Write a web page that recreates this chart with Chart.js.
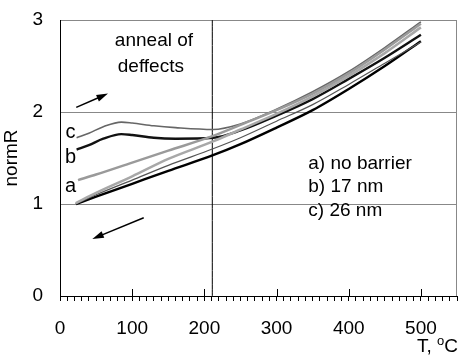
<!DOCTYPE html>
<html lang="en">
<head>
<meta charset="UTF-8" />
<title>normR vs T</title>
<script src="https://cdn.jsdelivr.net/npm/chart.js"></script>
<style>
  html, body { margin: 0; padding: 0; background: #fff; }
  #wrap { width: 459px; height: 357px; }
</style>
</head>
<body>
<div id="wrap"><canvas id="grafico"></canvas></div>
<script>
  // values: T in °C, normalized resistance
  const tHeatA = [25, 50, 100, 150, 212, 250, 300, 350, 400, 450, 500];
  const rHeatA = [1.26, 1.32, 1.45, 1.58, 1.74, 1.86, 2.02, 2.2, 2.42, 2.68, 2.96];

  const tCoolA = [22, 50, 100, 150, 212, 250, 300, 350, 400, 450, 500];
  const rCoolA = [1.01, 1.12, 1.3, 1.49, 1.68, 1.81, 1.98, 2.17, 2.39, 2.64, 2.92];

  const tHeatC = [23, 40, 60, 85, 100, 130, 160, 212, 250, 300, 350, 400, 450, 500];
  const rHeatC = [1.72, 1.77, 1.84, 1.89, 1.88, 1.85, 1.83, 1.81, 1.87, 2.03, 2.22, 2.44, 2.7, 2.98];

  const tHeatB = [23, 40, 60, 85, 100, 130, 160, 212, 250, 300, 350, 400, 450, 500];
  const rHeatB = [1.59, 1.64, 1.71, 1.76, 1.75, 1.72, 1.71, 1.72, 1.8, 1.96, 2.14, 2.36, 2.59, 2.84];

  const tCoolC = [22, 50, 100, 150, 212, 250, 300, 350, 400, 450, 500];
  const rCoolC = [1.0, 1.1, 1.26, 1.42, 1.6, 1.72, 1.9, 2.08, 2.3, 2.53, 2.76];

  const tCoolB = [22, 50, 100, 150, 212, 250, 300, 350, 400, 450, 500];
  const rCoolB = [1.0, 1.08, 1.22, 1.36, 1.53, 1.65, 1.83, 2.02, 2.25, 2.5, 2.77];

  const annealT = 211;
  const xMajor = [100, 200, 300, 400, 500];
  const legendLines = ['a) no barrier', 'b) 17 nm', 'c) 26 nm'];

  const FONT = '"Liberation Sans", Arial, sans-serif';

  function pts(xs, ys) { return xs.map((x, i) => ({ x: x, y: ys[i] })); }

  function serie(xs, ys, color, width) {
    return {
      data: pts(xs, ys), showLine: true, borderColor: color, borderWidth: width,
      pointRadius: 0, cubicInterpolationMode: 'monotone', fill: false
    };
  }

  // extra drawing: right border, long ticks, arrows and texts
  const extras = {
    id: 'extras',
    afterDraw(chart) {
      const c = chart.ctx, a = chart.chartArea;
      const xs = chart.scales.x, ys = chart.scales.y;
      c.save();
      c.strokeStyle = '#888'; c.lineWidth = 1;
      c.beginPath(); c.moveTo(a.right - 0.5, a.top); c.lineTo(a.right - 0.5, a.bottom); c.stroke();

      c.strokeStyle = '#000';
      xMajor.forEach(v => {
        const px = Math.round(xs.getPixelForValue(v)) + 0.5;
        c.beginPath(); c.moveTo(px, a.bottom - 7); c.lineTo(px, a.bottom); c.stroke();
      });

      function arrow(x1, y1, x2, y2) {
        const p1 = [xs.getPixelForValue(x1), ys.getPixelForValue(y1)];
        const p2 = [xs.getPixelForValue(x2), ys.getPixelForValue(y2)];
        const ang = Math.atan2(p2[1] - p1[1], p2[0] - p1[0]);
        c.lineWidth = 1.5;
        c.beginPath(); c.moveTo(p1[0], p1[1]);
        c.lineTo(p2[0] - 8 * Math.cos(ang), p2[1] - 8 * Math.sin(ang)); c.stroke();
        c.fillStyle = '#000';
        c.beginPath();
        c.moveTo(p2[0], p2[1]);
        c.lineTo(p2[0] - 12 * Math.cos(ang - 0.3), p2[1] - 12 * Math.sin(ang - 0.3));
        c.lineTo(p2[0] - 12 * Math.cos(ang + 0.3), p2[1] - 12 * Math.sin(ang + 0.3));
        c.closePath(); c.fill();
      }
      arrow(22.5, 2.05, 66.5, 2.2);
      arrow(116, 0.85, 44.8, 0.62);

      c.fillStyle = '#000';
      c.font = '19px ' + FONT;
      c.textBaseline = 'middle';
      c.textAlign = 'left';
      c.fillText('anneal of', xs.getPixelForValue(76), ys.getPixelForValue(2.77));
      c.fillText('deffects', xs.getPixelForValue(80), ys.getPixelForValue(2.49));
      legendLines.forEach((s, i) => {
        c.fillText(s, xs.getPixelForValue(344), ys.getPixelForValue(1.44 - i * 0.255));
      });

      c.font = '20px ' + FONT;
      c.textAlign = 'center';
      c.fillText('c', xs.getPixelForValue(14.6), ys.getPixelForValue(1.78));
      c.fillText('b', xs.getPixelForValue(14.6), ys.getPixelForValue(1.51));
      c.fillText('a', xs.getPixelForValue(14.6), ys.getPixelForValue(1.19));

      // x axis title with superscript o
      c.textAlign = 'left';
      c.font = '19px ' + FONT;
      const t1 = 'T, ', t3 = 'C';
      const w1 = c.measureText(t1).width, w3 = c.measureText(t3).width;
      c.font = '13px ' + FONT;
      const w2 = c.measureText('o').width;
      let x0 = 458 - (w1 + w2 + w3);
      const yb = 347;
      c.font = '19px ' + FONT;
      c.fillText(t1, x0, yb);
      c.font = '13px ' + FONT;
      c.fillText('o', x0 + w1, yb - 6);
      c.font = '19px ' + FONT;
      c.fillText(t3, x0 + w1 + w2, yb);
      c.restore();
    }
  };

  const ctx = document.getElementById('grafico').getContext('2d');
  const chart = new Chart(ctx, {
    type: 'scatter',
    data: {
      datasets: [
        serie(tHeatA, rHeatA, '#9a9a9a', 2.5),
        serie(tCoolA, rCoolA, '#a8a8a8', 2.5),
        serie(tCoolC, rCoolC, '#555', 1.2),
        serie(tHeatC, rHeatC, '#666', 1.6),
        serie(tHeatB, rHeatB, '#111', 2.4),
        serie(tCoolB, rCoolB, '#000', 2.4),
        serie([annealT, annealT], [0, 3], '#000', 1)
      ]
    },
    options: {
      responsive: true,
      maintainAspectRatio: false,
      animation: false,
      layout: { padding: { top: 20, right: 2, left: 0, bottom: 0 } },
      plugins: { legend: { display: false }, tooltip: { enabled: false } },
      scales: {
        x: {
          type: 'linear', min: 0, max: 550,
          afterFit(s) { s.height = 61; s.paddingLeft = 0; s.paddingRight = 0; },
          border: { color: '#000', width: 1 },
          grid: { drawOnChartArea: false, drawTicks: true, tickLength: 5, color: '#000' },
          ticks: {
            stepSize: 10, autoSkip: false, maxRotation: 0, padding: 16,
            color: '#000', font: { family: FONT, size: 19 },
            callback: v => (v % 100 === 0 && v <= 500) ? v : ''
          }
        },
        y: {
          min: 0, max: 3,
          afterFit(s) { s.width = 60; s.paddingTop = 0; s.paddingBottom = 0; },
          border: { color: '#000', width: 1 },
          grid: { color: '#888', drawTicks: false },
          ticks: {
            stepSize: 1, padding: 17, color: '#000',
            font: { family: FONT, size: 19 }
          },
          title: {
            display: true, text: 'normR', color: '#000',
            font: { family: FONT, size: 19 }, padding: 0
          }
        }
      }
    },
    plugins: [extras]
  });
</script>
</body>
</html>
